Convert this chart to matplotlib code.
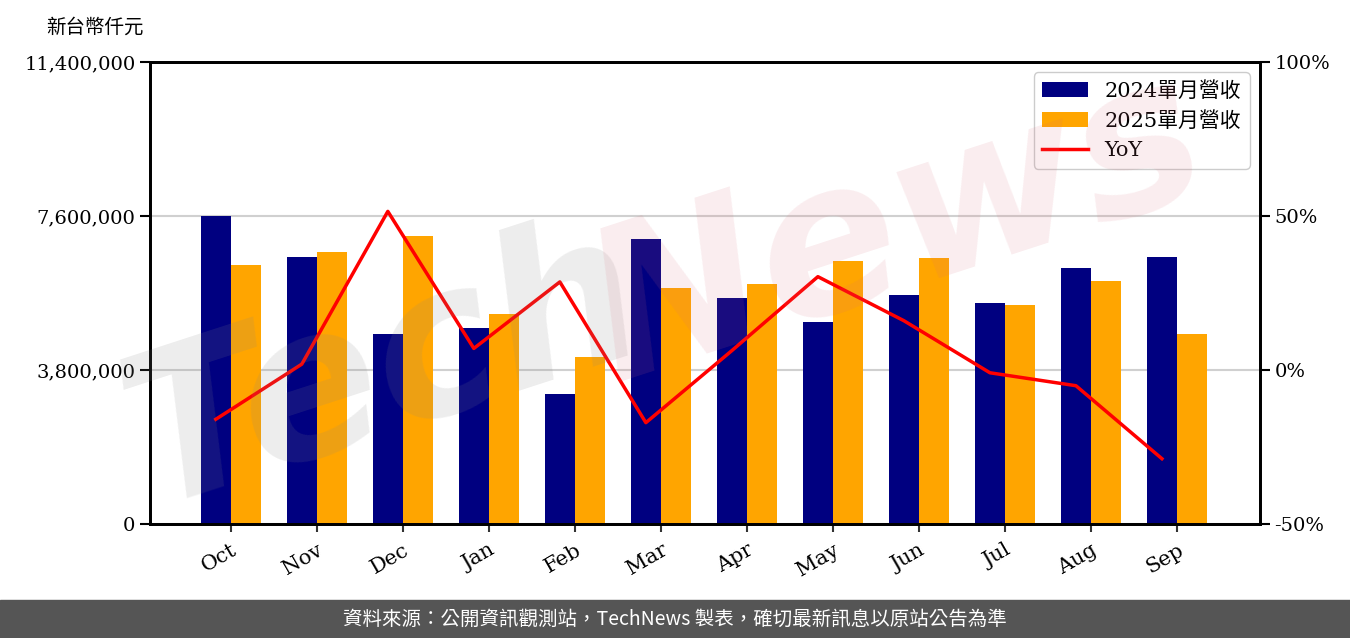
import matplotlib.pyplot as plt
import matplotlib.ticker as mticker
import numpy as np

plt.rcParams['font.family'] = ['DejaVu Serif', 'Noto Sans CJK TC']

months = ['Oct', 'Nov', 'Dec', 'Jan', 'Feb', 'Mar', 'Apr', 'May', 'Jun', 'Jul', 'Aug', 'Sep']
rev_2024 = [7600000, 6590000, 4690000, 4840000, 3210000, 7030000,
            5580000, 4980000, 5650000, 5450000, 6320000, 6590000]
rev_2025 = [6390000, 6710000, 7110000, 5180000, 4120000, 5820000,
            5920000, 6490000, 6560000, 5400000, 6000000, 4690000]
yoy = [-16.0, 1.9, 51.5, 7.0, 28.6, -17.1, 6.3, 30.3, 16.0, -0.9, -5.1, -28.8]

fig = plt.figure(figsize=(13.5, 6.38), dpi=100)
ax = fig.add_axes([150 / 1350, 1 - 524 / 638, 1110 / 1350, 462 / 638])

x = np.arange(len(months))
w = 0.35
ax.bar(x - w / 2, rev_2024, w, color='#000080', label='2024單月營收', zorder=2)
ax.bar(x + w / 2, rev_2025, w, color='#FFA500', label='2025單月營收', zorder=2)

ax.set_ylim(0, 11400000)
ax.set_yticks([0, 3800000, 7600000, 11400000])
ax.yaxis.set_major_formatter(mticker.FuncFormatter(lambda v, p: f'{int(v):,}'))
ax.set_xlim(-0.94, 11.965)
ax.set_xticks(x)
ax.set_xticklabels(months, rotation=30, ha='right', rotation_mode='anchor')
ax.grid(axis='y', color='#d0d0d0', linewidth=1.5, zorder=0)
ax.tick_params(axis='y', labelsize=14, length=7, width=1.5)
ax.tick_params(axis='x', labelsize=15, length=6, width=1.5, color='#333333', pad=6)
for s in ax.spines.values():
    s.set_linewidth(2)

ax2 = ax.twinx()
ax2.plot(x - w / 2, yoy, color='red', linewidth=2.5, label='YoY', zorder=3)
ax2.set_ylim(-50, 100)
ax2.set_yticks([-50, 0, 50, 100])
ax2.yaxis.set_major_formatter(mticker.FuncFormatter(lambda v, p: f'{int(v)}%'))
ax2.tick_params(axis='y', labelsize=14, length=7, width=1.5)
for s in ax2.spines.values():
    s.set_linewidth(2)

h1, l1 = ax.get_legend_handles_labels()
h2, l2 = ax2.get_legend_handles_labels()
ax2.legend(h1 + h2, l1 + l2, loc='upper right', fontsize=15, frameon=True,
           framealpha=1, edgecolor='#cccccc', handlelength=2.2, borderpad=0.4,
           labelspacing=0.5)

# watermark
fig.text(0.285, 0.42, 'Tech', fontsize=150, fontweight='bold', style='italic',
         family='DejaVu Sans', color='#888888', alpha=0.15, rotation=18,
         ha='center', va='center', zorder=10)
fig.text(0.665, 0.64, 'News', fontsize=150, fontweight='bold', style='italic',
         family='DejaVu Sans', color='#d96a7a', alpha=0.12, rotation=18,
         ha='center', va='center', zorder=10)

fig.text(95 / 1350, 1 - 27 / 638, '新台幣仟元', fontsize=14, ha='center', va='center',
         family='Noto Sans CJK TC')

# footer
fig.patches.append(plt.Rectangle((0, 0), 1, 38 / 638, transform=fig.transFigure,
                                 color='#555555', zorder=0))
fig.text(0.5, 19 / 638, '資料來源：公開資訊觀測站，TechNews 製表，確切最新訊息以原站公告為準',
         fontsize=14, color='white', ha='center', va='center', family='Noto Sans CJK TC')

fig.savefig('out.png', dpi=100)
